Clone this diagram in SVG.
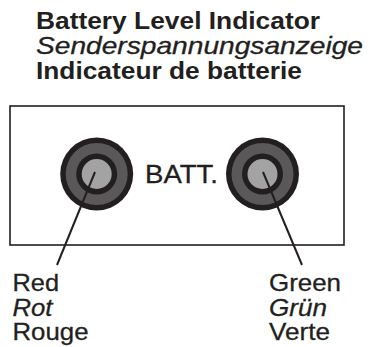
<svg xmlns="http://www.w3.org/2000/svg" width="370" height="347" viewBox="0 0 370 347">
<style>
text{font-family:"Liberation Sans",Arial,sans-serif;fill:#231f20}
.t{font-size:24px;font-weight:bold}
.ti{font-size:24px;font-style:italic;stroke:#231f20;stroke-width:0.3}
.l{font-size:24px;stroke:#231f20;stroke-width:0.3}
.li{font-size:24px;font-style:italic;stroke:#231f20;stroke-width:0.3}
.o{fill:#231f20}
.m{fill:#5a5858}
.c{fill:#a3a3a3}
.ln{stroke:#231f20;stroke-width:2;fill:none}
</style>
<defs>
<g id="led">
<circle r="36.5" class="o"/>
<circle r="31" class="m"/>
<circle r="20.5" class="o"/>
<circle r="15" class="c"/>
</g>
</defs>
<g id="title">
<text class="t" x="36" y="29" textLength="284" lengthAdjust="spacingAndGlyphs">Battery Level Indicator</text>
<text class="ti" x="36" y="54" textLength="327" lengthAdjust="spacingAndGlyphs">Senderspannungsanzeige</text>
<text class="t" x="36" y="79" textLength="266" lengthAdjust="spacingAndGlyphs">Indicateur de batterie</text>
</g>
<g id="panel">
<rect x="10" y="106" width="334" height="139" fill="#fff" stroke="#231f20" stroke-width="1.6"/>
<text x="145" y="183" textLength="73" lengthAdjust="spacingAndGlyphs" style="font-size:25px;stroke:#231f20;stroke-width:0.3">BATT.</text>
</g>
<g id="red-led"><use href="#led" x="96.7" y="174"/></g>
<g id="green-led"><use href="#led" x="262.5" y="174"/></g>
<g id="connectors">
<line class="ln" x1="95" y1="172" x2="57" y2="265"/>
<line class="ln" x1="263" y1="172" x2="302" y2="265"/>
</g>
<g id="red-label">
<text class="l" x="12.5" y="291" textLength="46.5" lengthAdjust="spacingAndGlyphs">Red</text>
<text class="li" x="12.5" y="315.5" textLength="40" lengthAdjust="spacingAndGlyphs">Rot</text>
<text class="l" x="12.5" y="340" textLength="76" lengthAdjust="spacingAndGlyphs">Rouge</text>
</g>
<g id="green-label">
<text class="l" x="269" y="291" textLength="72" lengthAdjust="spacingAndGlyphs">Green</text>
<text class="li" x="269" y="315.5" textLength="58" lengthAdjust="spacingAndGlyphs">Grün</text>
<text class="l" x="269" y="340" textLength="61" lengthAdjust="spacingAndGlyphs">Verte</text>
</g>
</svg>
